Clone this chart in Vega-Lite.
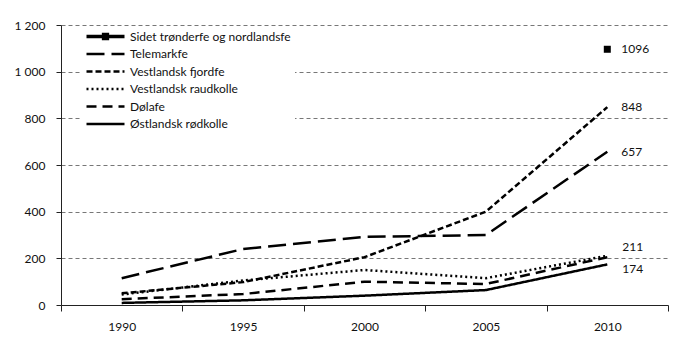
{
  "$schema": "https://vega.github.io/schema/vega-lite/v6.json",
  "width": 607,
  "height": 280,
  "autosize": {"type": "none"},
  "padding": {"left": 61, "top": 25, "right": 32, "bottom": 47},
  "background": "white",
  "config": {
    "view": {"stroke": null},
    "font": "Lato",
    "axis": {"labelFont": "Lato", "labelFontSize": 12, "labelColor": "#111", "domainColor": "#222", "tickColor": "#222", "titleFontSize": 11}
  },
  "data": {
    "values": [
      {"breed": "Sidet trønderfe og nordlandsfe", "year": 2010, "value": 1096},
      {"breed": "Telemarkfe", "year": 1990, "value": 115},
      {"breed": "Telemarkfe", "year": 1995, "value": 240},
      {"breed": "Telemarkfe", "year": 2000, "value": 292},
      {"breed": "Telemarkfe", "year": 2005, "value": 300},
      {"breed": "Telemarkfe", "year": 2010, "value": 657},
      {"breed": "Vestlandsk fjordfe", "year": 1990, "value": 50},
      {"breed": "Vestlandsk fjordfe", "year": 1995, "value": 98},
      {"breed": "Vestlandsk fjordfe", "year": 2000, "value": 205},
      {"breed": "Vestlandsk fjordfe", "year": 2005, "value": 400},
      {"breed": "Vestlandsk fjordfe", "year": 2010, "value": 848},
      {"breed": "Vestlandsk raudkolle", "year": 1990, "value": 45},
      {"breed": "Vestlandsk raudkolle", "year": 1995, "value": 105},
      {"breed": "Vestlandsk raudkolle", "year": 2000, "value": 150},
      {"breed": "Vestlandsk raudkolle", "year": 2005, "value": 115},
      {"breed": "Vestlandsk raudkolle", "year": 2010, "value": 211},
      {"breed": "Dølafe", "year": 1990, "value": 25},
      {"breed": "Dølafe", "year": 1995, "value": 47},
      {"breed": "Dølafe", "year": 2000, "value": 100},
      {"breed": "Dølafe", "year": 2005, "value": 90},
      {"breed": "Dølafe", "year": 2010, "value": 205},
      {"breed": "Østlandsk rødkolle", "year": 1990, "value": 9},
      {"breed": "Østlandsk rødkolle", "year": 1995, "value": 20},
      {"breed": "Østlandsk rødkolle", "year": 2000, "value": 40},
      {"breed": "Østlandsk rødkolle", "year": 2005, "value": 64},
      {"breed": "Østlandsk rødkolle", "year": 2010, "value": 174}
    ]
  },
  "encoding": {
    "x": {
      "field": "year", "type": "quantitative",
      "scale": {"domain": [1987.5, 2012.5], "nice": false, "zero": false},
      "axis": {
        "title": null, "grid": false,
        "values": [1987.5, 1992.5, 1997.5, 2002.5, 2007.5, 2012.5],
        "labelExpr": "datum.value < 2012 ? format(datum.value + 2.5, 'd') : ''",
        "labelOffset": 60.7, "labelOverlap": false, "labelBound": false, "labelFlush": false,
        "tickSize": 6, "labelPadding": 10
      }
    },
    "y": {
      "field": "value", "type": "quantitative",
      "scale": {"domain": [0, 1200], "nice": false},
      "axis": {
        "title": null,
        "values": [0, 200, 400, 600, 800, 1000, 1200],
        "labelExpr": "replace(format(datum.value, ','), ',', ' ')",
        "grid": true, "gridColor": "#777", "gridDash": [4, 3], "gridWidth": 1,
        "tickSize": 5, "labelPadding": 11
      }
    }
  },
  "layer": [
    {
      "mark": {"type": "line", "color": "black", "strokeWidth": 2.5, "strokeCap": "butt"},
      "encoding": {
        "strokeDash": {
          "field": "breed", "type": "nominal",
          "scale": {
            "domain": ["Sidet trønderfe og nordlandsfe", "Telemarkfe", "Vestlandsk fjordfe", "Vestlandsk raudkolle", "Dølafe", "Østlandsk rødkolle"],
            "range": [[1, 0], [18, 7], [6, 3], [2, 3], [10, 6], [1, 0]]
          },
          "legend": {
            "title": null, "orient": "none", "legendX": 21, "legendY": 1,
            "symbolType": "stroke", "symbolSize": 1444, "symbolStrokeWidth": 2.5, "symbolStrokeColor": "black",
            "labelFont": "Lato", "labelFontSize": 12, "labelColor": "#111", "labelLimit": 300,
            "fillColor": "white", "padding": 4, "rowPadding": 4.5, "clipHeight": 13, "labelOffset": 4,
            "encode": {
              "symbols": {
                "update": {
                  "shape": {"signal": "datum.value === 'Sidet trønderfe og nordlandsfe' ? 'M-1,0H1M-0.1,-0.1H0.1V0.1H-0.1Z' : 'stroke'"},
                  "size": {"value": 1444},
                  "x": {"value": 19.5},
                  "stroke": {"value": "black"},
                  "strokeOpacity": {"value": 1},
                  "opacity": {"value": 1},
                  "strokeWidth": {"signal": "datum.value === 'Sidet trønderfe og nordlandsfe' ? 3.5 : 2.5"},
                  "fill": {"value": "black"}
                }
              },
              "labels": {
                "update": {"x": {"value": 44}}
              }
            }
          }
        }
      }
    },
    {
      "transform": [{"filter": "datum.breed === 'Sidet trønderfe og nordlandsfe'"}],
      "mark": {"type": "square", "color": "black", "filled": true, "size": 49, "opacity": 1}
    },
    {
      "transform": [{"filter": "datum.year === 2010 && (datum.breed === 'Sidet trønderfe og nordlandsfe' || datum.breed === 'Telemarkfe' || datum.breed === 'Vestlandsk fjordfe')"}],
      "mark": {"type": "text", "align": "left", "baseline": "middle", "dx": 14, "fontSize": 12, "font": "Lato", "color": "#111"},
      "encoding": {"text": {"field": "value", "type": "quantitative", "format": "d"}}
    },
    {
      "transform": [{"filter": "datum.year === 2010 && datum.breed === 'Vestlandsk raudkolle'"}],
      "mark": {"type": "text", "align": "left", "baseline": "middle", "dx": 15, "dy": -9, "fontSize": 12, "font": "Lato", "color": "#111"},
      "encoding": {"text": {"field": "value", "type": "quantitative", "format": "d"}}
    },
    {
      "transform": [{"filter": "datum.year === 2010 && datum.breed === 'Østlandsk rødkolle'"}],
      "mark": {"type": "text", "align": "left", "baseline": "middle", "dx": 15, "dy": 5, "fontSize": 12, "font": "Lato", "color": "#111"},
      "encoding": {"text": {"field": "value", "type": "quantitative", "format": "d"}}
    }
  ]
}
